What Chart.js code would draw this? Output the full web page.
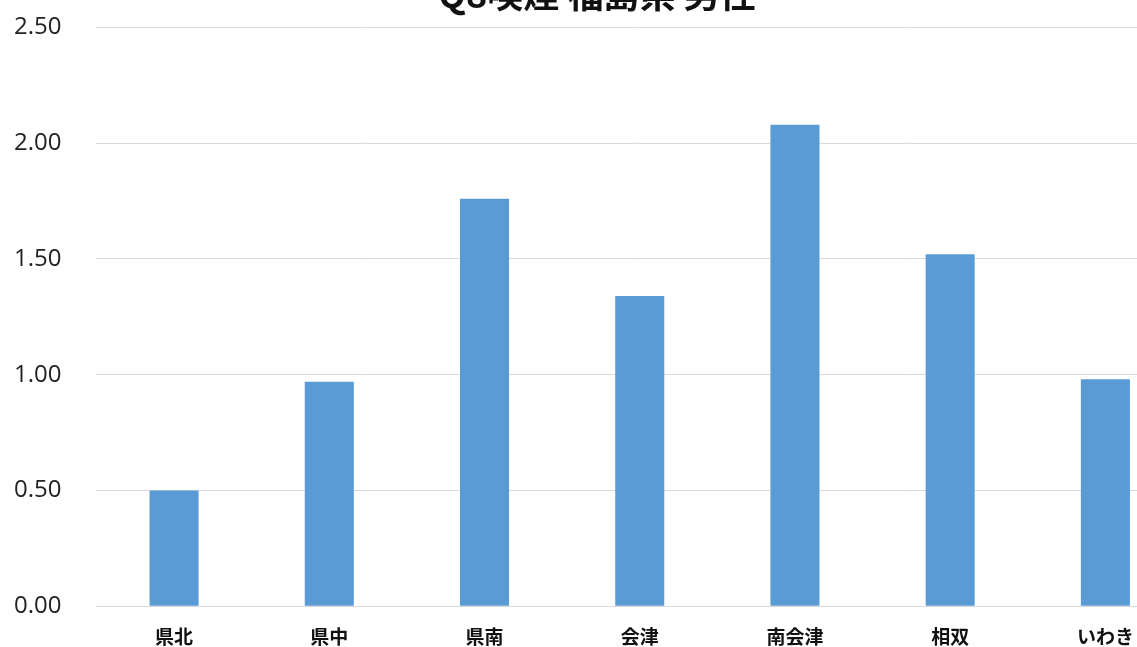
<!DOCTYPE html>
<html>
<head>
<meta charset="utf-8">
<script src="https://cdn.jsdelivr.net/npm/chart.js@4"></script>
<style>
    html, body { margin: 0; padding: 0; overflow: hidden; background: #ffffff; }
    body { width: 1137px; height: 647px; position: relative; }
    #wrap { position: absolute; left: -21px; top: -22px; width: 1215px; height: 689px; }
    #title {
        position: absolute; left: 0; top: -34px; width: 1194px;
        text-align: center; line-height: 36px;
        font: bold 36px 'Noto Sans CJK JP', 'Noto Sans', sans-serif; color: #111111;
        white-space: nowrap;
    }
</style>
</head>
<body>
<div id="wrap"><canvas id="smokeChart" width="1215" height="689"></canvas></div>
<div id="title"></div>
<script>
const chartTitle = 'Q8喫煙 福島県 男性';
const regions = ['県北', '県中', '県南', '会津', '南会津', '相双', 'いわき'];
const rates = [0.50, 0.97, 1.76, 1.34, 2.08, 1.52, 0.98];
const yTicks = [0, 0.5, 1.0, 1.5, 2.0, 2.5];

const cjkFont = "'Noto Sans CJK JP', 'Noto Sans', sans-serif";

document.getElementById('title').textContent = chartTitle;

new Chart(document.getElementById('smokeChart'), {
    type: 'bar',
    data: {
        labels: regions,
        datasets: [{
            data: rates,
            backgroundColor: '#5b9bd5',
            borderWidth: 0,
            categoryPercentage: 1.0,
            barPercentage: 0.316
        }]
    },
    options: {
        responsive: false,
        animation: false,
        layout: { padding: { left: 0, right: 11, top: 4, bottom: 0 } },
        scales: {
            y: {
                min: 0,
                max: 2.5,
                afterBuildTicks: (axis) => { axis.ticks = yTicks.map(v => ({ value: v })); },
                grid: { color: '#d9d9d9', drawTicks: false },
                border: { display: false },
                ticks: {
                    padding: 35,
                    color: '#222222',
                    font: { family: "'Open Sans', sans-serif", size: 24 },
                    callback: (v) => Number(v).toFixed(2)
                }
            },
            x: {
                grid: { display: false, drawTicks: false },
                border: { display: true, color: '#d9d9d9', width: 1 },
                ticks: {
                    padding: 19,
                    color: '#111111',
                    font: { family: cjkFont, size: 19, weight: 'bold' }
                }
            }
        },
        plugins: {
            legend: { display: false },
            tooltip: { enabled: false },
            title: { display: false }
        }
    }
});
</script>
</body>
</html>
